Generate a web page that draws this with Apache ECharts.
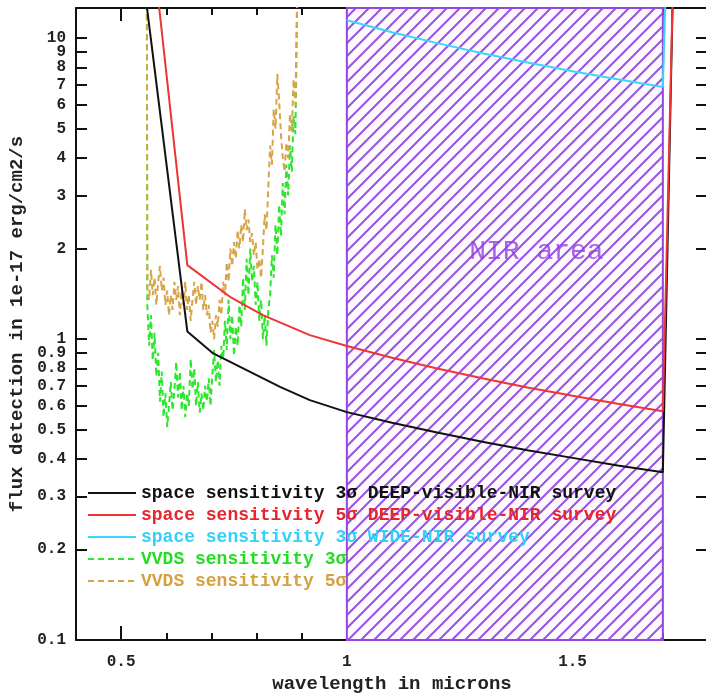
<!DOCTYPE html>
<html>
<head>
<meta charset="utf-8">
<script src="https://cdn.jsdelivr.net/npm/echarts@6/dist/echarts.min.js"></script>
<style>
  html, body { margin: 0; padding: 0; background: #fff; }
  #chart { width: 706px; height: 694px; }
</style>
</head>
<body>
<div id="chart"></div>
<script>
// ---- Data (wavelength in microns, flux in 1e-17 erg/cm2/s) ----
const xMajorTicks = [0.5, 1, 1.5];
const xMinorTicks = [0.6, 0.7, 0.8, 0.9, 1.1, 1.2, 1.3, 1.4, 1.6, 1.7];
const yTicks = [0.1, 0.2, 0.3, 0.4, 0.5, 0.6, 0.7, 0.8, 0.9, 1, 2, 3, 4, 5, 6, 7, 8, 9, 10];
// tick labels split into two interleaved sets so that crowded neighbours are all kept
const yLabelsA = [0.1, 0.3, 0.5, 0.7, 0.9, 2, 4, 6, 8, 10];
const yLabelsB = [0.2, 0.4, 0.6, 0.8, 1, 3, 5, 7, 9];
const xRange = [0.4, 1.8];
const yRange = [0.1, 12.6];

// space sensitivity 3 sigma, DEEP visible-NIR survey
const deep3Wave = [0.5535, 0.6466, 0.704, 0.778, 0.852, 0.918, 1.0, 1.1, 1.2, 1.3, 1.4, 1.5, 1.6, 1.7, 1.722];
const deep3Flux = [14, 1.06, 0.896, 0.789, 0.694, 0.627, 0.572, 0.527, 0.489, 0.456, 0.427, 0.403, 0.380, 0.361, 14];

// space sensitivity 5 sigma, DEEP visible-NIR survey
const deep5Wave = [0.581, 0.6466, 0.741, 0.814, 0.918, 1.0, 1.1, 1.2, 1.3, 1.4, 1.5, 1.6, 1.7, 1.722];
const deep5Flux = [14, 1.762, 1.382, 1.201, 1.031, 0.948, 0.867, 0.799, 0.741, 0.691, 0.648, 0.610, 0.576, 14];

// space sensitivity 3 sigma, WIDE NIR survey
const wide3Wave = [1.0, 1.1, 1.2, 1.3, 1.4, 1.5, 1.6, 1.7, 1.706];
const wide3Flux = [11.48, 10.47, 9.63, 8.91, 8.30, 7.77, 7.30, 6.88, 14];

// VVDS sensitivity 3 sigma
const vvds3Wave = [0.557, 0.558, 0.562, 0.566, 0.570, 0.574, 0.578, 0.582, 0.586, 0.590, 0.594, 0.598,
  0.602, 0.606, 0.610, 0.614, 0.618, 0.622, 0.626, 0.630, 0.634, 0.638, 0.642, 0.646, 0.650, 0.654,
  0.658, 0.662, 0.666, 0.670, 0.674, 0.678, 0.682, 0.686, 0.690, 0.694, 0.698, 0.702, 0.706, 0.710,
  0.714, 0.718, 0.722, 0.726, 0.730, 0.734, 0.738, 0.742, 0.746, 0.750, 0.754, 0.758, 0.762, 0.766,
  0.770, 0.774, 0.778, 0.782, 0.786, 0.790, 0.794, 0.798, 0.802, 0.806, 0.810, 0.814, 0.818, 0.822,
  0.826, 0.830, 0.834, 0.838, 0.842, 0.846, 0.850, 0.854, 0.858, 0.862, 0.866, 0.870, 0.874, 0.878,
  0.882, 0.886, 0.888, 0.890];
const vvds3Flux = [14, 1.30, 0.95, 1.20, 0.85, 1.05, 0.75, 0.90, 0.62, 0.78, 0.55, 0.66,
  0.51, 0.60, 0.72, 0.58, 0.68, 0.84, 0.64, 0.78, 0.58, 0.70, 0.55, 0.66, 0.60, 0.86,
  0.68, 0.80, 0.60, 0.72, 0.57, 0.66, 0.58, 0.70, 0.62, 0.74, 0.60, 0.76, 0.92, 0.72,
  0.85, 0.70, 0.95, 0.86, 1.15, 0.92, 1.35, 1.00, 1.20, 0.88, 1.10, 0.95, 1.30, 1.10,
  1.60, 1.25, 1.85, 1.40, 2.00, 1.55, 1.75, 1.30, 1.55, 1.15, 1.35, 1.00, 1.20, 0.95,
  1.25, 1.40, 1.90, 1.60, 2.40, 1.90, 2.80, 2.20, 3.30, 2.60, 3.80, 3.00, 4.40, 3.60,
  5.50, 4.80, 8.00, 14];

// VVDS sensitivity 5 sigma
const vvds5Wave = [0.557, 0.558, 0.562, 0.566, 0.570, 0.574, 0.578, 0.582, 0.586, 0.590, 0.594, 0.598,
  0.602, 0.606, 0.610, 0.614, 0.618, 0.622, 0.626, 0.630, 0.634, 0.638, 0.642, 0.646, 0.650, 0.654,
  0.658, 0.662, 0.666, 0.670, 0.674, 0.678, 0.682, 0.686, 0.690, 0.694, 0.698, 0.702, 0.706, 0.710,
  0.714, 0.718, 0.722, 0.726, 0.730, 0.734, 0.738, 0.742, 0.746, 0.750, 0.754, 0.758, 0.762, 0.766,
  0.770, 0.774, 0.778, 0.782, 0.786, 0.790, 0.794, 0.798, 0.802, 0.806, 0.810, 0.814, 0.818, 0.822,
  0.826, 0.830, 0.834, 0.838, 0.842, 0.846, 0.850, 0.854, 0.858, 0.862, 0.866, 0.870, 0.874, 0.878,
  0.882, 0.886, 0.890];
const vvds5Flux = [14, 1.45, 1.35, 1.70, 1.40, 1.60, 1.30, 1.55, 1.75, 1.45, 1.60, 1.30,
  1.45, 1.20, 1.40, 1.25, 1.55, 1.35, 1.50, 1.20, 1.45, 1.30, 1.55, 1.25, 1.40, 1.15,
  1.35, 1.55, 1.30, 1.50, 1.35, 1.55, 1.25, 1.40, 1.20, 1.30, 1.05, 1.15, 1.00, 1.20,
  1.10, 1.35, 1.20, 1.55, 1.40, 1.80, 1.55, 2.00, 1.75, 2.10, 1.85, 2.30, 2.00, 2.40,
  2.10, 2.70, 2.30, 2.50, 2.10, 2.25, 1.90, 2.10, 1.70, 1.85, 1.60, 2.00, 2.60, 2.30,
  3.20, 4.40, 3.80, 5.80, 5.00, 7.60, 6.20, 4.80, 4.00, 3.60, 4.50, 4.00, 5.60, 4.90,
  7.30, 6.00, 14];

// NIR band limits and its caption position
const nirBand = [1.0, 1.7];
const nirCaption = { text: 'NIR area', wave: 1.42, flux: 1.96 };

const seriesNames = [
  'space sensitivity 3σ DEEP-visible-NIR survey',
  'space sensitivity 5σ DEEP-visible-NIR survey',
  'space sensitivity 3σ WIDE-NIR survey',
  'VVDS sensitivity 3σ',
  'VVDS sensitivity 5σ'
];
const seriesColors = ['#111111', '#f03434', '#3ad6ff', '#2ee62e', '#d8a448'];
const legendTextColors = ['#111111', '#e8242c', '#32d0f8', '#22dd22', '#d4a040'];

// ---- Helpers ----
const lg = v => Math.log10(v);
const pairs = (w, f) => w.map((x, i) => [x, lg(f[i])]);

// diagonal hatch tile for the NIR band
function hatchTile() {
  const s = 13;
  const c = document.createElement('canvas');
  c.width = s; c.height = s;
  const g = c.getContext('2d');
  g.fillStyle = '#fdf9ff';
  g.fillRect(0, 0, s, s);
  g.strokeStyle = '#9654e4';
  g.lineWidth = 2;
  g.beginPath();
  g.moveTo(-2, s + 2); g.lineTo(s + 2, -2);
  g.moveTo(-4, 4); g.lineTo(4, -4);
  g.moveTo(s - 4, s + 4); g.lineTo(s + 4, s - 4);
  g.stroke();
  return c;
}

const monoFont = '"Liberation Mono", "DejaVu Sans Mono", monospace';

function xAxisDef(position, ticks, len, showLine, showLabel, extra) {
  return Object.assign({
    type: 'value', position: position, gridIndex: 0,
    min: xRange[0], max: xRange[1],
    axisLine: { show: showLine, onZero: false, lineStyle: { color: '#111', width: 2 } },
    axisTick: { show: true, inside: true, length: len, customValues: ticks, lineStyle: { color: '#111', width: 2 } },
    axisLabel: { show: showLabel, customValues: ticks, margin: 14, color: '#222',
      showMinLabel: true, showMaxLabel: true, hideOverlap: false,
      fontFamily: monoFont, fontWeight: 'bold', fontSize: 16, formatter: v => String(v) },
    splitLine: { show: false }
  }, extra || {});
}

const yTickLog = yTicks.map(lg);
const fmtFlux = v => String(parseFloat(Math.pow(10, v).toPrecision(3)));

function yAxisDef(position, showLine, tickLen, labels, extra) {
  return Object.assign({
    type: 'value', position: position, gridIndex: 0,
    min: lg(yRange[0]), max: lg(yRange[1]),
    axisLine: { show: showLine, onZero: false, lineStyle: { color: '#111', width: 2 } },
    axisTick: { show: tickLen > 0, inside: true, length: tickLen, customValues: yTickLog, lineStyle: { color: '#111', width: 2 } },
    axisLabel: { show: !!labels, customValues: labels ? labels.map(lg) : yTickLog, margin: 10, color: '#222',
      showMinLabel: true, showMaxLabel: true, hideOverlap: false,
      fontFamily: monoFont, fontWeight: 'bold', fontSize: 16, formatter: fmtFlux },
    splitLine: { show: false }
  }, extra || {});
}

const lineSeries = (idx, w, f, dashed, z) => ({
  name: seriesNames[idx], type: 'line', xAxisIndex: 0, yAxisIndex: 0,
  data: pairs(w, f), symbol: 'none', showSymbol: false, z: z, clip: true,
  lineStyle: { color: seriesColors[idx], width: 2, type: dashed ? [6, 4] : 'solid' },
  itemStyle: { color: seriesColors[idx] }
});

const chart = echarts.init(document.getElementById('chart'), null, { renderer: 'canvas' });

chart.setOption({
  animation: false,
  backgroundColor: '#ffffff',
  grid: { left: 76, top: 8, right: -2, bottom: 54, containLabel: false, outerBoundsMode: 'none' },
  xAxis: [
    xAxisDef('bottom', xMajorTicks, 14, true, true, {
      name: 'wavelength in microns', nameLocation: 'middle', nameGap: 35,
      nameTextStyle: { fontFamily: monoFont, fontWeight: 'bold', fontSize: 19, color: '#222' }
    }),
    xAxisDef('bottom', xMinorTicks, 7, false, false),
    xAxisDef('top', xMajorTicks, 13, true, false),
    xAxisDef('top', xMinorTicks, 7, false, false)
  ],
  yAxis: [
    yAxisDef('left', true, 11, yLabelsA, {
      name: 'flux detection in 1e-17 erg/cm2/s', nameLocation: 'middle', nameGap: 44,
      nameTextStyle: { fontFamily: monoFont, fontWeight: 'bold', fontSize: 19, color: '#222' }
    }),
    yAxisDef('left', false, 0, yLabelsB),
    yAxisDef('right', true, 12, null)
  ],
  legend: {
    orient: 'vertical', left: 82, top: 479,
    itemWidth: 48, itemHeight: 14, itemGap: 4,
    itemStyle: { opacity: 0 },
    textStyle: { fontFamily: monoFont, fontWeight: 'bold', fontSize: 18, lineHeight: 18 },
    data: seriesNames.map((n, i) => ({ name: n, textStyle: { color: legendTextColors[i] } })),
    selectedMode: false
  },
  series: [
    {
      name: 'NIR band', type: 'line', data: [], xAxisIndex: 0, yAxisIndex: 0, z: 1, silent: true,
      markArea: {
        silent: true,
        itemStyle: { color: { image: hatchTile(), repeat: 'repeat' }, borderColor: '#9347e0', borderWidth: 2, opacity: 1 },
        data: [[{ xAxis: nirBand[0], yAxis: lg(yRange[0]) }, { xAxis: nirBand[1], yAxis: lg(yRange[1]) }]]
      }
    },
    {
      name: 'NIR caption', type: 'scatter', xAxisIndex: 0, yAxisIndex: 0, z: 2, silent: true,
      data: [[nirCaption.wave, lg(nirCaption.flux)]], symbolSize: 0,
      label: { show: true, position: 'inside', formatter: nirCaption.text, color: '#9440e0',
        fontFamily: monoFont, fontSize: 28 }
    },
    lineSeries(3, vvds3Wave, vvds3Flux, true, 3),
    lineSeries(4, vvds5Wave, vvds5Flux, true, 4),
    lineSeries(0, deep3Wave, deep3Flux, false, 5),
    lineSeries(1, deep5Wave, deep5Flux, false, 6),
    lineSeries(2, wide3Wave, wide3Flux, false, 7)
  ]
});
</script>
</body>
</html>
